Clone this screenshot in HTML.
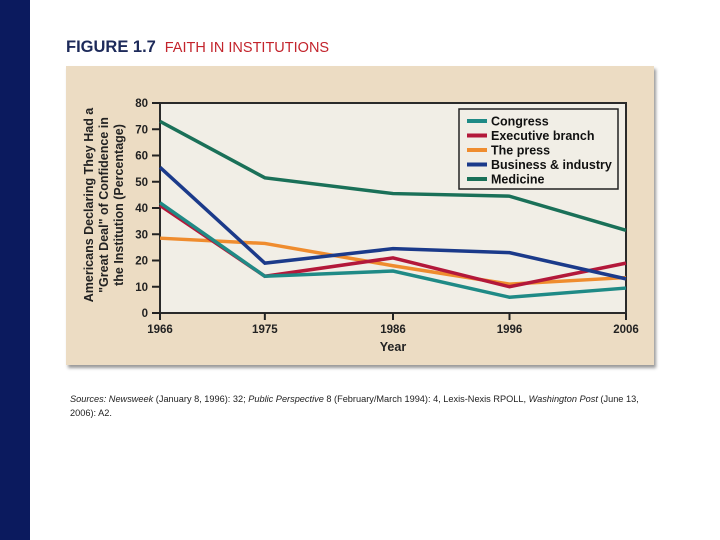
<!DOCTYPE html>
<html><head><meta charset="utf-8"><style>
body{margin:0;width:720px;height:540px;background:#fff;position:relative;overflow:hidden;font-family:"Liberation Sans",sans-serif}
#strip{position:absolute;left:0;top:0;width:30px;height:540px;background:#0b1a5e}
#title{position:absolute;left:66px;top:38px;white-space:nowrap}
#panel{position:absolute;left:66px;top:66px;width:588px;height:299px;background:#ecdcc3;box-shadow:2px 3px 3px #999}
#src{position:absolute;left:70px;top:392px;font-size:9.2px;line-height:14px;color:#222;width:572px}
</style></head><body>
<div id="strip"></div>
<div id="title"><b style="color:#1d2a5a;font-size:16.5px">FIGURE 1.7</b>&nbsp;&nbsp;<span style="color:#c3242c;font-size:14.5px">FAITH IN INSTITUTIONS</span></div>
<div id="panel"></div>
<svg id="chart" width="720" height="540" style="position:absolute;left:0;top:0"></svg>
<div id="src"><i>Sources: Newsweek</i> (January 8, 1996): 32; <i>Public Perspective</i> 8 (February/March 1994): 4, Lexis-Nexis RPOLL, <i>Washington Post</i> (June 13, 2006): A2.</div>
<script>
const years=[1966,1975,1986,1996,2006];
const yTicks=[0,10,20,30,40,50,60,70,80];
const seriesNames=["Congress","Executive branch","The press","Business & industry","Medicine"];
const congress=[42,14,16,6,9.5];
const executive=[41,14,21,10,19];
const press=[28.5,26.5,18,11,13.5];
const business=[55.5,19,24.5,23,13];
const medicine=[73,51.5,45.5,44.5,31.5];
const colors=["#1f8a86","#b3183a","#ef8c2e","#1b3a8a","#1a7058"];
const svg=document.getElementById('chart');const NS='http://www.w3.org/2000/svg';
const L=160,R=626,T=103,B=313;
const xs=y=>L+(y-1966)/(2006-1966)*(R-L);
const ys=v=>B-v/80*(B-T);
function mk(t,a,p){const e=document.createElementNS(NS,t);for(const k in a)e.setAttribute(k,a[k]);(p||svg).appendChild(e);return e;}
const plot=mk('rect',{x:L,y:T,width:R-L,height:B-T,fill:'#f1eee6',stroke:'#2a2a2a','stroke-width':2});


yTicks.forEach(v=>{const y=ys(v);
 const t=mk('line',{x1:L-8,x2:L,y1:y,y2:y,stroke:'#222','stroke-width':2});
 
 
 const l=mk('text',{x:L-12,y:y+4,'text-anchor':'end','font-size':11.5,'font-weight':'bold',fill:'#222'});l.textContent=v;
 
 });
years.forEach(yr=>{const x=xs(yr);
 const t=mk('line',{x1:x,x2:x,y1:B,y2:B+7,stroke:'#222','stroke-width':2});
 
 
 const l=mk('text',{x:x,y:B+20,'text-anchor':'middle','font-size':11.5,'font-weight':'bold',fill:'#222'});l.textContent=yr;
 
 });
const xt=mk('text',{x:393,y:351,'text-anchor':'middle','font-size':12.5,'font-weight':'bold',fill:'#222'});xt.textContent='Year';


['Americans Declaring They Had a','"Great Deal" of Confidence in','the Institution (Percentage)'].forEach((s,i)=>{const tx=mk('text',{transform:`translate(${93+i*15},205) rotate(-90)`,'text-anchor':'middle','font-size':12.5,'font-weight':'bold',fill:'#222'});tx.textContent=s;
 
 });
const all=[congress,executive,press,business,medicine];
[2,1,3,0,4].forEach(i=>{const d=all[i].map((v,j)=>(j?'L':'M')+xs(years[j])+','+ys(v)).join(' ');
 const p=mk('path',{d:d,fill:'none',stroke:colors[i],'stroke-width':3.5,'stroke-linejoin':'miter'});
 
 });
const lg=mk('rect',{x:459,y:109,width:159,height:80,fill:'#f1eee6',stroke:'#222','stroke-width':1.5});


seriesNames.forEach((n,i)=>{const y=121+i*14.5;
 const sw=mk('line',{x1:467,x2:487,y1:y,y2:y,stroke:colors[i],'stroke-width':4});
 
 
 const t=mk('text',{x:491,y:y+4.5,'font-size':12.5,'font-weight':'bold',fill:'#111'});t.textContent=n;
 
 });
</script>
</body></html>
